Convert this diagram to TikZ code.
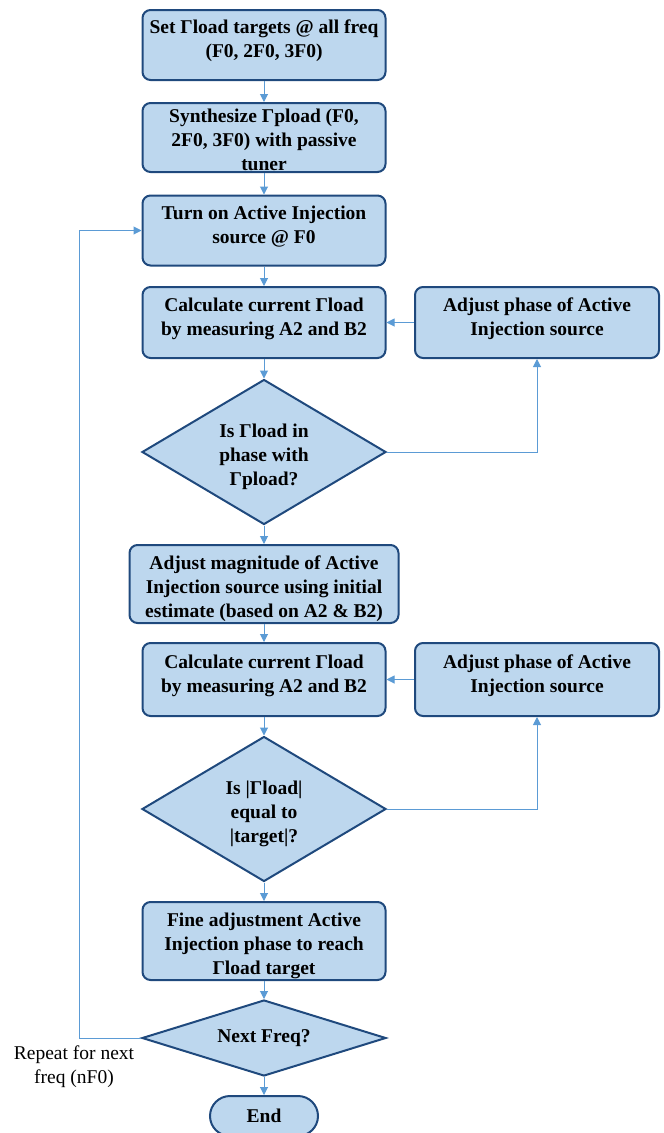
\documentclass[tikz,border=0pt]{standalone}
\usepackage{fontspec}
\setmainfont{Liberation Serif}
\usetikzlibrary{shapes.geometric,shapes.misc,arrows.meta}
\definecolor{boxfill}{HTML}{BDD7EE}
\definecolor{boxline}{HTML}{1F497D}
\definecolor{flowline}{HTML}{5B9BD5}
\tikzset{
  >={Triangle[length=8pt,width=8pt]},
  every node/.style={font=\fontsize{19.5}{24}\selectfont\bfseries},
  process/.style={draw=boxline, fill=boxfill, line width=2pt, rounded corners=8pt,
    align=center, minimum width=243pt, minimum height=70pt, inner sep=0pt},
  decision/.style={draw=boxline, fill=boxfill, line width=2pt, diamond, aspect=2,
    align=center, minimum width=244pt, minimum height=145pt, inner sep=0pt},
  terminal/.style={draw=boxline, fill=boxfill, line width=2pt, rounded rectangle,
    minimum width=108pt, minimum height=40pt, inner sep=0pt},
  lift/.style={text depth=12pt},
  drop/.style={text depth=0pt, text height=66pt},
  flow/.style={->, draw=flowline, line width=1pt},
}
\begin{document}
\begin{tikzpicture}[x=1pt, y=-1pt]
    \useasboundingbox (0,0) rectangle (664,1133);
    % main column
    \node[process, lift] (settarget) at (264,45) {Set Γload targets @ all freq\\(F0, 2F0, 3F0)};
    \node[process, drop, minimum height=69pt] (synth) at (264,137.5) {Synthesize Γpload (F0,\\2F0, 3F0) with passive\\tuner};
    \node[process, lift] (turnon) at (264,230.5) {Turn on Active Injection\\source @ F0};
    \node[process, lift, minimum height=71pt] (calcA) at (264,322.5) {Calculate current Γload\\by measuring A2 and B2};
    \node[decision, drop] (phase) at (264,452) {Is Γload in\\phase with\\Γpload?};
    \node[process, drop, minimum width=269pt, minimum height=78pt] (mag) at (264,584) {Adjust magnitude of Active\\Injection source using initial\\estimate (based on A2 \& B2)};
    \node[process, lift, minimum height=73pt] (calcB) at (264,679.5) {Calculate current Γload\\by measuring A2 and B2};
    \node[decision, drop] (equal) at (264,809) {Is |Γload|\\equal to\\|target|?};
    \node[process, drop, minimum height=78pt] (fine) at (264,941) {Fine adjustment Active\\Injection phase to reach\\Γload target};
    \node[decision, minimum height=76pt] (next) at (264,1038) {Next Freq?};
    \node[terminal] (done) at (264,1116) {End};
    % side boxes
    \node[process, lift, minimum width=244pt, minimum height=71pt] (adjA) at (537,322.5) {Adjust phase of Active\\Injection source};
    \node[process, lift, minimum width=244pt, minimum height=73pt] (adjB) at (537,679.5) {Adjust phase of Active\\Injection source};
    \node[font=\fontsize{19.5}{24}\selectfont, align=center] (repeat) at (74,1067) {Repeat for next\\freq (nF0)};

    \draw[flow] (settarget) -- (synth);
    \draw[flow] (synth) -- (turnon);
    \draw[flow] (turnon) -- (calcA);
    \draw[flow] (calcA) -- (phase);
    \draw[flow] (phase) -- (mag);
    \draw[flow] (mag) -- (calcB);
    \draw[flow] (calcB) -- (equal);
    \draw[flow] (equal) -- (fine);
    \draw[flow] (fine) -- (next);
    \draw[flow] (next) -- (done);
    \draw[flow] (phase.east) -| (adjA.south);
    \draw[flow] (adjA) -- (calcA);
    \draw[flow] (equal.east) -| (adjB.south);
    \draw[flow] (adjB) -- (calcB);
    \draw[flow] (next.west) -- ++(-62,0) |- (turnon.west);
\end{tikzpicture}
\end{document}
